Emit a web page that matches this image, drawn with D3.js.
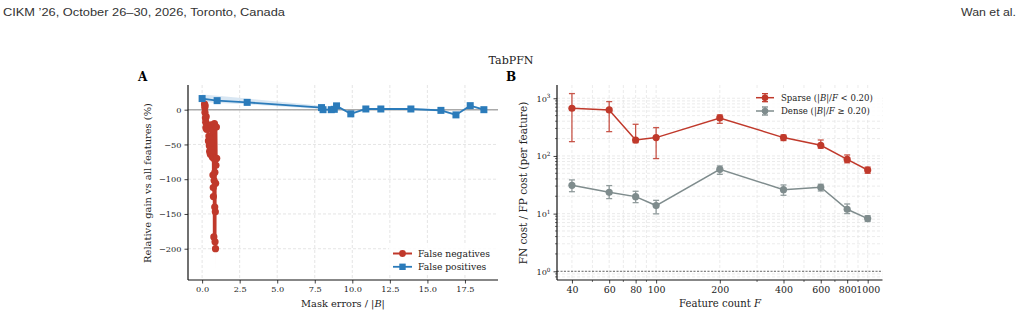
<!DOCTYPE html>
<html>
<head>
<meta charset="utf-8">
<script src="https://cdn.jsdelivr.net/npm/d3@7"></script>
<style>
  body { margin: 0; background: #fff; }
  svg { display: block; }
</style>
</head>
<body>
<svg id="fig" width="1021" height="316"></svg>
<script>
// ---- panel A: relative gain vs mask errors ----
var fpX = [0, 1, 3, 7.95, 8.05, 8.6, 8.8, 8.95, 9.9, 10.9, 11.9, 13.9, 15.9, 16.9, 17.85, 18.76];
var fpY = [16, 13, 10.5, 3, 0, 0, 0.5, 5.5, -6, 1, 1, 1, -1, -7.5, 5.8, 0];
var fpLo = [11.5, 9.6, 7.7, 1, -1.5, -1.5, -1, 4, -7.5, -0.5, -0.5, -0.5, -2.5, -9, 4.3, -1.5];
var fpHi = [22, 20, 16, 5.8, 1.5, 1.5, 2, 7, -4.5, 2.5, 2.5, 2.5, 0.5, -6, 7.3, 1.5];

var fnX = [0.16, 0.18, 0.19, 0.2, 0.22, 0.24, 0.25, 0.27, 0.3, 0.33, 0.38, 0.42, 0.45, 0.48, 0.5, 0.52, 0.55, 0.58, 0.6, 0.62,
           0.65, 0.68, 0.7, 0.72, 0.74, 0.75, 0.77, 0.78, 0.8, 0.82, 0.84, 0.85, 0.86, 0.87, 0.88, 0.89, 0.9, 0.92, 0.95, 0.97];
var fnY = [8, 3, -4, 6, -12, -18, -26, -10, -28, -22, -28, -45, -38, -52, -60, -42, -64, -55, -22, -48,
           -62, -68, -30, -94, -112, -125, -70, -183, -102, -20, -140, -90, -190, -72, -147, -200, -106, -80, -25, -70];
var fnCi = [3, 3, 3, 3, 4, 4, 4, 4, 5, 5, 5, 6, 6, 6, 6, 6, 7, 7, 6, 7,
            8, 8, 7, 9, 10, 10, 8, 12, 10, 6, 12, 9, 14, 8, 12, 35, 10, 8, 6, 8];

var xTicksA = [0, 2.5, 5, 7.5, 10, 12.5, 15, 17.5];
var yTicksA = [-200, -150, -100, -50, 0];

// ---- panel B: FN cost / FP cost ----
var featureCounts = [40, 60, 80, 100, 200, 400, 600, 800, 1000];
var sparseMean = [671, 628, 189, 208, 456, 208, 153, 87, 57];
var sparseLo = [177, 264, 170, 90, 368, 185, 136, 76, 50];
var sparseHi = [1205, 875, 354, 310, 514, 231, 189, 104, 64];
var denseMean = [31, 23.4, 19.7, 13.8, 58.7, 26, 28.6, 11.9, 8.2];
var denseLo = [24, 18.2, 15.5, 9.9, 48, 20.8, 24.7, 10, 7.3];
var denseHi = [38.4, 30.6, 24.4, 17, 67, 31.4, 32.3, 14.7, 9.2];
var yTicksB = [1, 10, 100, 1000];

var RED = "#c0392b", BLUE = "#2b7bba", GRAY = "#7f8c8d";
var SERIF = "'DejaVu Serif', 'Liberation Serif', serif";

var svg = d3.select("#fig");
svg.append("rect").attr("width", 1021).attr("height", 316).attr("fill", "#fff");

// scale a text's font size so it spans the wanted width
function fit(sel, target) {
    var w = sel.node().getComputedTextLength();
    var fs = +sel.attr("font-size");
    if (w > 0) sel.attr("font-size", fs * target / w);
    return sel;
}
function probeSize(str, target) {
    var p = svg.append("text").attr("font-family", SERIF).attr("font-size", 10).text(str);
    var w = p.node().getComputedTextLength();
    p.remove();
    return 10 * target / w;
}
var TICK_FS = probeSize("\u2212200", 22.5);
var TICK_FS_B = probeSize("100", 18);

// header of the paper page
svg.append("text").attr("x", 3).attr("y", 16)
    .attr("font-family", "'Liberation Sans Narrow', 'Liberation Sans', sans-serif")
    .attr("font-size", 11.5).attr("fill", "#333")
    .attr("textLength", 282).attr("lengthAdjust", "spacingAndGlyphs")
    .text("CIKM \u201926, October 26\u201330, 2026, Toronto, Canada");
svg.append("text").attr("x", 1016).attr("y", 16).attr("text-anchor", "end")
    .attr("font-family", "'Liberation Sans Narrow', 'Liberation Sans', sans-serif")
    .attr("font-size", 11.5).attr("fill", "#333")
    .attr("textLength", 55).attr("lengthAdjust", "spacingAndGlyphs")
    .text("Wan et al.");

fit(svg.append("text").attr("x", 511).attr("y", 64).attr("text-anchor", "middle")
    .attr("font-family", SERIF).attr("font-size", 11).attr("fill", "#222").text("TabPFN"), 45);

svg.append("text").attr("x", 138).attr("y", 81)
    .attr("font-family", SERIF).attr("font-size", 12).attr("font-weight", "bold").text("A");
svg.append("text").attr("x", 506).attr("y", 81)
    .attr("font-family", SERIF).attr("font-size", 12).attr("font-weight", "bold").text("B");

var fmtMinus = function(v){ return d3.format("")(v).replace("-", "\u2212"); };

// ================= panel A =================
var xA = d3.scaleLinear().domain([-0.94, 19.7]).range([188, 498]);
var yA = d3.scaleLinear().domain([-245, 35.5]).range([280, 85]);
var gA = svg.append("g");

// grid
gA.selectAll("line.gx").data(xTicksA).enter().append("line")
    .attr("x1", function(d){ return xA(d); }).attr("x2", function(d){ return xA(d); })
    .attr("y1", 85).attr("y2", 280)
    .attr("stroke", "#dedede").attr("stroke-width", 0.8).attr("stroke-dasharray", "3,2");
gA.selectAll("line.gy").data(yTicksA).enter().append("line")
    .attr("y1", function(d){ return yA(d); }).attr("y2", function(d){ return yA(d); })
    .attr("x1", 188).attr("x2", 498)
    .attr("stroke", "#dedede").attr("stroke-width", 0.8).attr("stroke-dasharray", "3,2");

// zero reference
gA.append("line").attr("x1", 188).attr("x2", 498).attr("y1", yA(0)).attr("y2", yA(0))
    .attr("stroke", "#aaaaaa").attr("stroke-width", 1.6);

var fp = fpX.map(function(x, i){ return {x: x, y: fpY[i], lo: fpLo[i], hi: fpHi[i]}; });
var fn = fnX.map(function(x, i){ return {x: x, y: fnY[i], lo: fnY[i] - fnCi[i], hi: fnY[i] + fnCi[i]}; });

var band = d3.area()
    .x(function(d){ return xA(d.x); })
    .y0(function(d){ return yA(d.lo); })
    .y1(function(d){ return yA(d.hi); });
var lineA = d3.line()
    .x(function(d){ return xA(d.x); })
    .y(function(d){ return yA(d.y); });

gA.append("path").datum(fp).attr("d", band).attr("fill", BLUE).attr("opacity", 0.18);
gA.append("path").datum(fn).attr("d", band).attr("fill", RED).attr("opacity", 0.18);

gA.append("path").datum(fn).attr("d", lineA).attr("fill", "none")
    .attr("stroke", RED).attr("stroke-width", 2);
gA.selectAll("circle.fn").data(fn).enter().append("circle")
    .attr("cx", function(d){ return xA(d.x); }).attr("cy", function(d){ return yA(d.y); })
    .attr("r", 3.6).attr("fill", RED);

gA.append("path").datum(fp).attr("d", lineA).attr("fill", "none")
    .attr("stroke", BLUE).attr("stroke-width", 1.8);
gA.selectAll("rect.fp").data(fp).enter().append("rect")
    .attr("x", function(d){ return xA(d.x) - 3.5; }).attr("y", function(d){ return yA(d.y) - 3.5; })
    .attr("width", 7).attr("height", 7).attr("fill", BLUE);

// axes
var axA = gA.append("g").attr("transform", "translate(0,280)")
    .call(d3.axisBottom(xA).tickValues(xTicksA).tickSize(3.5).tickPadding(3)
        .tickFormat(d3.format(".1f")));
var ayA = gA.append("g").attr("transform", "translate(188,0)")
    .call(d3.axisLeft(yA).tickValues(yTicksA).tickSize(3.5).tickPadding(3).tickFormat(fmtMinus));
[axA, ayA].forEach(function(a){
    a.select(".domain").attr("stroke", "#111").attr("stroke-width", 1.2);
    a.selectAll(".tick line").attr("stroke", "#111").attr("stroke-width", 0.8);
    a.selectAll(".tick text").attr("font-family", SERIF).attr("font-size", TICK_FS).attr("fill", "#222");
});
axA.select(".domain").attr("d", "M188,0H498");
ayA.select(".domain").attr("d", "M0,85V280");

var xlA = gA.append("text").attr("x", 343).attr("y", 307).attr("text-anchor", "middle")
    .attr("font-family", SERIF).attr("font-size", 10).attr("fill", "#222");
xlA.append("tspan").text("Mask errors / |");
xlA.append("tspan").attr("font-style", "italic").text("B");
xlA.append("tspan").text("|");
fit(xlA, 84);
fit(gA.append("text").attr("transform", "translate(151,183) rotate(-90)").attr("text-anchor", "middle")
    .attr("font-family", SERIF).attr("font-size", 10).attr("fill", "#222")
    .text("Relative gain vs all features (%)"), 160);

// legend A
var legA = gA.append("g");
legA.append("rect").attr("x", 389).attr("y", 245).attr("width", 108).attr("height", 29).attr("fill", "#fff").attr("opacity", 0.85);
legA.append("line").attr("x1", 393).attr("x2", 412).attr("y1", 253.5).attr("y2", 253.5).attr("stroke", RED).attr("stroke-width", 2);
legA.append("circle").attr("cx", 402.5).attr("cy", 253.5).attr("r", 3.4).attr("fill", RED);
legA.append("line").attr("x1", 393).attr("x2", 412).attr("y1", 266.8).attr("y2", 266.8).attr("stroke", BLUE).attr("stroke-width", 1.8);
legA.append("rect").attr("x", 399.3).attr("y", 263.6).attr("width", 6.4).attr("height", 6.4).attr("fill", BLUE);
var lt1 = fit(legA.append("text").attr("x", 418).attr("y", 256.8).attr("font-family", SERIF).attr("font-size", 9)
    .attr("fill", "#222").text("False negatives"), 72);
legA.append("text").attr("x", 418).attr("y", 270.1).attr("font-family", SERIF).attr("font-size", lt1.attr("font-size"))
    .attr("fill", "#222").text("False positives");

// ================= panel B =================
var xB = d3.scaleLog().domain([34, 1175]).range([557, 882.5]);
var yB = d3.scaleLog().domain([Math.pow(10, -0.151), Math.pow(10, 3.23)]).range([280, 85]);
var gB = svg.append("g");

var xMinor = [];
[10, 100, 1000].forEach(function(dec){
    for (var k = 1; k < 10; k++) {
        var v = dec * k;
        if (v >= 34 && v <= 1175) xMinor.push(v);
    }
});
var yMinor = [];
[0.1, 1, 10, 100, 1000].forEach(function(dec){
    for (var k = 1; k < 10; k++) {
        var v = dec * k;
        if (v >= yB.domain()[0] && v <= yB.domain()[1]) yMinor.push(v);
    }
});

gB.selectAll("line.gx").data(xMinor).enter().append("line")
    .attr("x1", function(d){ return xB(d); }).attr("x2", function(d){ return xB(d); })
    .attr("y1", 85).attr("y2", 280)
    .attr("stroke", "#e2e2e2").attr("stroke-width", 0.7).attr("stroke-dasharray", "3,2");
gB.selectAll("line.gy").data(yMinor).enter().append("line")
    .attr("y1", function(d){ return yB(d); }).attr("y2", function(d){ return yB(d); })
    .attr("x1", 557).attr("x2", 882.5)
    .attr("stroke", "#e2e2e2").attr("stroke-width", 0.7).attr("stroke-dasharray", "3,2");

gB.append("line").attr("x1", 557).attr("x2", 882.5).attr("y1", yB(1)).attr("y2", yB(1))
    .attr("stroke", "#444").attr("stroke-width", 0.8).attr("stroke-dasharray", "2,1.5");

function series(mean, lo, hi, color) {
    var pts = featureCounts.map(function(f, i){ return {x: f, y: mean[i], lo: lo[i], hi: hi[i]}; });
    var g = gB.append("g");
    g.append("path").datum(pts)
        .attr("d", d3.line().x(function(d){ return xB(d.x); }).y(function(d){ return yB(d.y); }))
        .attr("fill", "none").attr("stroke", color).attr("stroke-width", 1.5);
    var eb = g.selectAll("g.eb").data(pts).enter().append("g").attr("opacity", 0.85);
    eb.append("line")
        .attr("x1", function(d){ return xB(d.x); }).attr("x2", function(d){ return xB(d.x); })
        .attr("y1", function(d){ return yB(d.lo); }).attr("y2", function(d){ return yB(d.hi); })
        .attr("stroke", color).attr("stroke-width", 1.3);
    ["lo", "hi"].forEach(function(k){
        eb.append("line")
            .attr("x1", function(d){ return xB(d.x) - 3; }).attr("x2", function(d){ return xB(d.x) + 3; })
            .attr("y1", function(d){ return yB(d[k]); }).attr("y2", function(d){ return yB(d[k]); })
            .attr("stroke", color).attr("stroke-width", 1.3);
    });
    g.selectAll("circle").data(pts).enter().append("circle")
        .attr("cx", function(d){ return xB(d.x); }).attr("cy", function(d){ return yB(d.y); })
        .attr("r", 3.6).attr("fill", color);
}
series(sparseMean, sparseLo, sparseHi, RED);
series(denseMean, denseLo, denseHi, GRAY);

var axB = gB.append("g").attr("transform", "translate(0,280)")
    .call(d3.axisBottom(xB).tickValues(featureCounts).tickSize(3.5).tickPadding(3).tickFormat(d3.format("d")));
axB.selectAll(".minor").data(xMinor.filter(function(v){ return featureCounts.indexOf(v) < 0; }))
    .enter().append("line").attr("class", "minor")
    .attr("x1", function(d){ return xB(d); }).attr("x2", function(d){ return xB(d); })
    .attr("y1", 0).attr("y2", 2).attr("stroke", "#111").attr("stroke-width", 0.6);
var ayB = gB.append("g").attr("transform", "translate(557,0)")
    .call(d3.axisLeft(yB).tickValues(yTicksB).tickSize(3.5).tickPadding(3).tickFormat(""));
ayB.selectAll(".minor").data(yMinor.filter(function(v){ return yTicksB.indexOf(v) < 0; }))
    .enter().append("line").attr("class", "minor")
    .attr("y1", function(d){ return yB(d); }).attr("y2", function(d){ return yB(d); })
    .attr("x1", 0).attr("x2", -2).attr("stroke", "#111").attr("stroke-width", 0.6);
[axB, ayB].forEach(function(a){
    a.select(".domain").attr("stroke", "#111").attr("stroke-width", 1.2);
    a.selectAll(".tick line").attr("stroke", "#111").attr("stroke-width", 0.8);
    a.selectAll(".tick text").attr("font-family", SERIF).attr("font-size", TICK_FS_B).attr("fill", "#222");
});
ayB.selectAll(".tick").each(function(d){
    var t = d3.select(this).select("text").attr("dy", "0.35em").attr("font-size", TICK_FS);
    t.text("10").append("tspan").attr("dy", "-0.55em").attr("font-size", TICK_FS * 0.7)
        .text(Math.round(Math.log10(d)));
});
axB.select(".domain").attr("d", "M557,0H882.5");
ayB.select(".domain").attr("d", "M0,85V280");

var xl = gB.append("text").attr("x", 720).attr("y", 307).attr("text-anchor", "middle")
    .attr("font-family", SERIF).attr("font-size", 10).attr("fill", "#222");
xl.append("tspan").text("Feature count ");
xl.append("tspan").attr("font-style", "italic").text("F");
fit(xl, 82);
fit(gB.append("text").attr("transform", "translate(527,183) rotate(-90)").attr("text-anchor", "middle")
    .attr("font-family", SERIF).attr("font-size", 10).attr("fill", "#222")
    .text("FN cost / FP cost (per feature)"), 163);

// legend B
var legB = gB.append("g");
legB.append("rect").attr("x", 751).attr("y", 90).attr("width", 130).attr("height", 28).attr("fill", "#fff").attr("opacity", 0.85);
var legFs = null;
[{y: 97.7, c: RED, name: "Sparse", op: "< 0.20"}, {y: 111, c: GRAY, name: "Dense", op: "\u2265 0.20"}].forEach(function(r){
    legB.append("line").attr("x1", 756).attr("x2", 774).attr("y1", r.y).attr("y2", r.y).attr("stroke", r.c).attr("stroke-width", 1.5);
    legB.append("line").attr("x1", 765).attr("x2", 765).attr("y1", r.y - 4).attr("y2", r.y + 4).attr("stroke", r.c).attr("stroke-width", 1.3);
    legB.append("line").attr("x1", 762).attr("x2", 768).attr("y1", r.y - 4).attr("y2", r.y - 4).attr("stroke", r.c).attr("stroke-width", 1.3);
    legB.append("line").attr("x1", 762).attr("x2", 768).attr("y1", r.y + 4).attr("y2", r.y + 4).attr("stroke", r.c).attr("stroke-width", 1.3);
    legB.append("circle").attr("cx", 765).attr("cy", r.y).attr("r", 3.3).attr("fill", r.c);
    var t = legB.append("text").attr("x", 781).attr("y", r.y + 3.2).attr("font-family", SERIF)
        .attr("font-size", legFs || 9).attr("fill", "#222");
    t.append("tspan").text(r.name + "  (|");
    t.append("tspan").attr("font-style", "italic").text("B");
    t.append("tspan").text("|/");
    t.append("tspan").attr("font-style", "italic").text("F");
    t.append("tspan").text(" " + r.op + ")");
    if (!legFs) { fit(t, 92); legFs = +t.attr("font-size"); }
});
</script>
</body>
</html>
